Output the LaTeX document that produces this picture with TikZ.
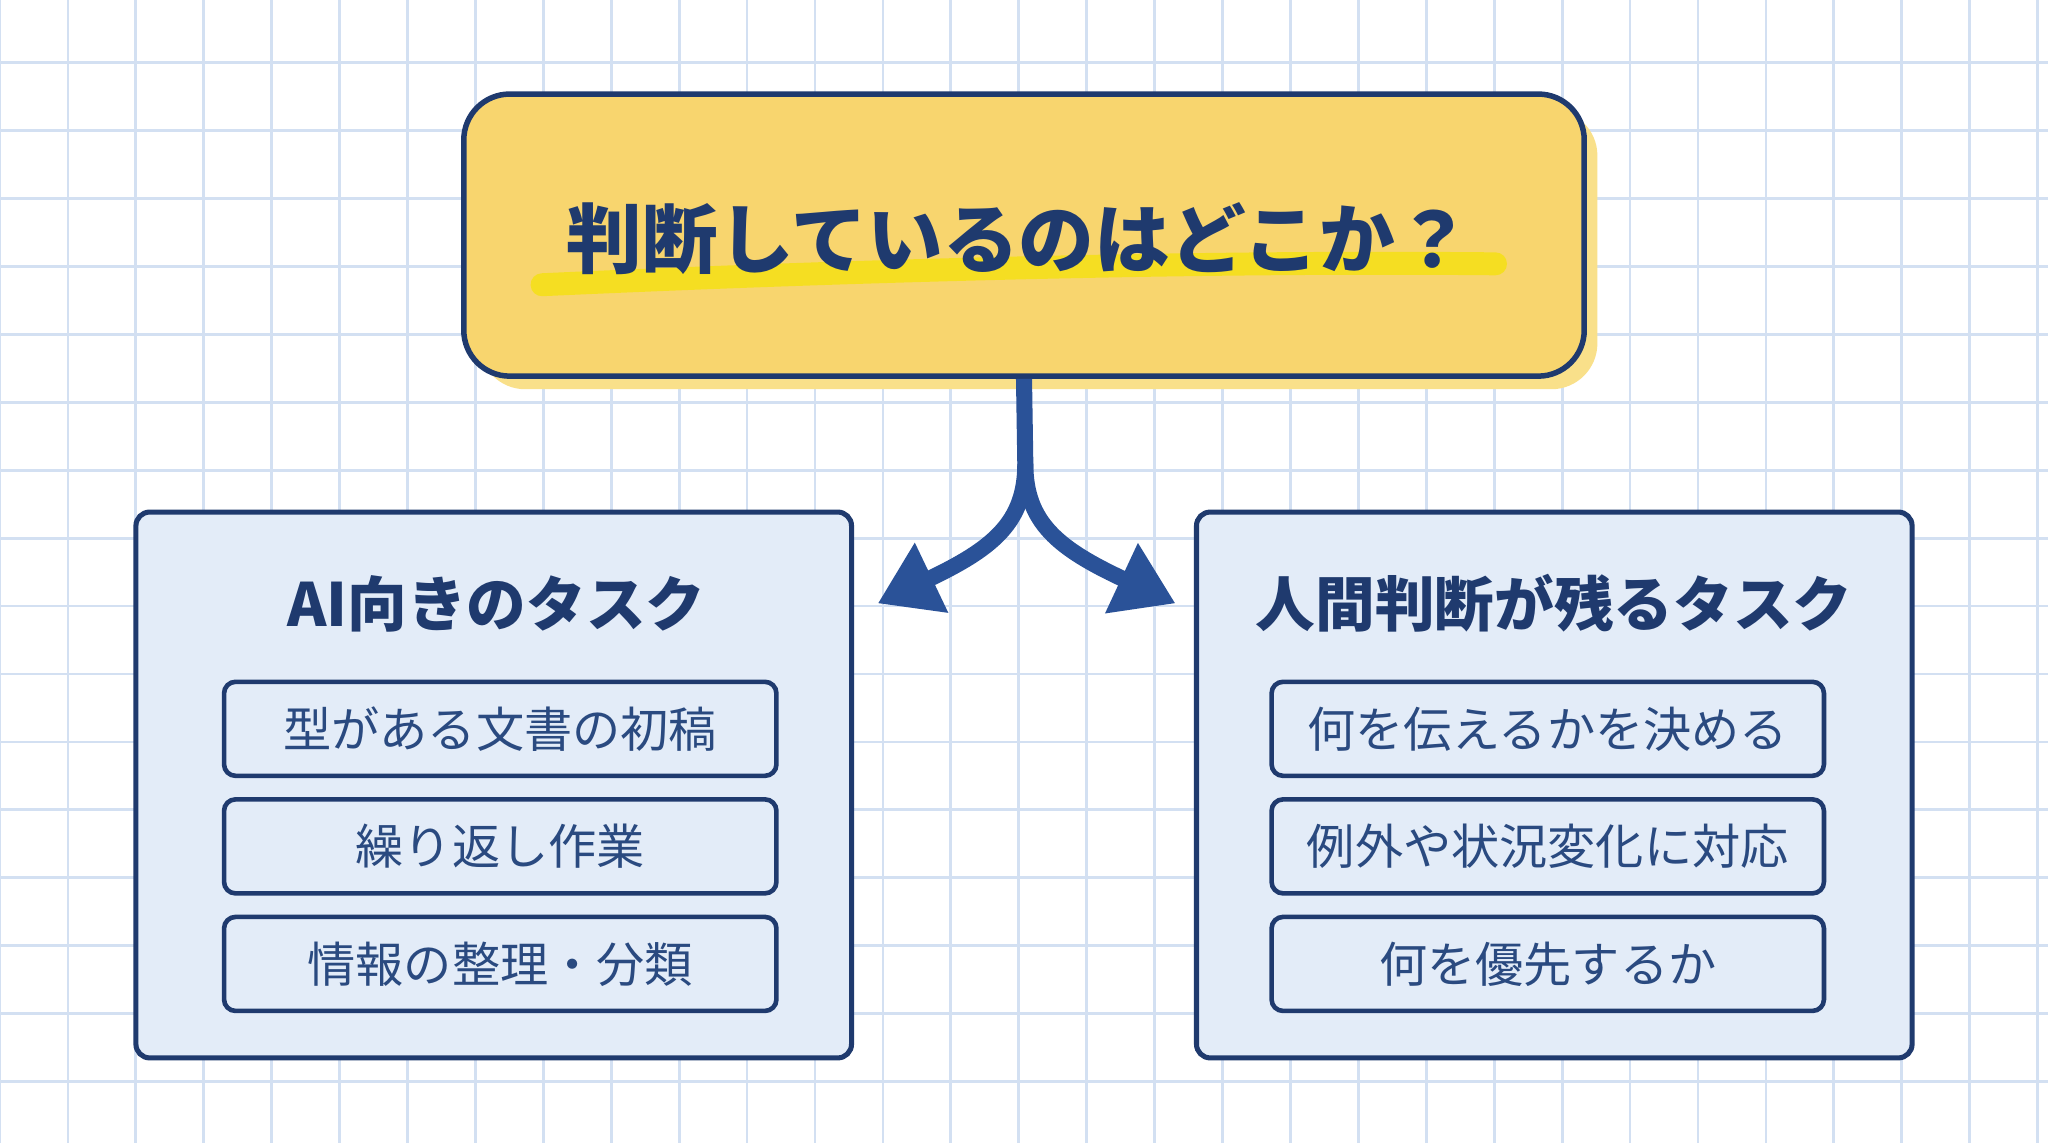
\documentclass[tikz,border=0pt]{standalone}
\usepackage{fontspec}
\setmainfont{Noto Sans CJK JP}
\usetikzlibrary{arrows.meta}
\definecolor{navy}{HTML}{1F3A6E}
\definecolor{arrowblue}{HTML}{2A5298}
\definecolor{titleyellow}{HTML}{F8D56E}
\definecolor{shadowyellow}{HTML}{F9E08A}
\definecolor{marker}{HTML}{F5E01A}
\definecolor{panelblue}{HTML}{E3ECF8}
\definecolor{itemtext}{HTML}{2A4A80}
\definecolor{gridblue}{HTML}{D3E0F2}
\tikzset{
  gridline/.style={gridblue, line width=1.2pt},
  panel/.style={draw=navy, line width=2.2pt, fill=panelblue, rounded corners=6pt},
  itembox/.style={draw=navy, line width=2pt, fill=panelblue, rounded corners=5pt,
    minimum width=8.46cm, minimum height=1.44cm, inner sep=0pt,
    font=\fontsize{21}{24}\selectfont, text=itemtext},
  paneltitle/.style={font=\fontsize{26}{30}\selectfont\bfseries, text=navy},
  arrowline/.style={arrowblue, line width=7pt, -{Triangle[width=32pt,length=26pt]}}
}
\begin{document}
\begin{tikzpicture}[x=0.02cm,y=-0.02cm]
\useasboundingbox (0,0) rectangle (1568,875);
\fill[white] (0,0) rectangle (1568,875);
% grid paper
\foreach \gx in {0,52,...,1568} \draw[gridline] (\gx,0) -- (\gx,875);
\foreach \gy in {48,100,...,875} \draw[gridline] (0,\gy) -- (1568,\gy);
% question box
\fill[shadowyellow, rounded corners=20pt] (367,84) rectangle (1223,298);
\node[draw=navy, line width=2.4pt, fill=titleyellow, rounded corners=20pt,
  minimum width=17.16cm, minimum height=4.32cm] (question) at (784,180) {};
\draw[marker, line width=10pt, line cap=round, opacity=0.9] (415,218) .. controls (700,205) and (950,200) .. (1145,202);
\node[font=\fontsize{33}{38}\selectfont\bfseries, text=navy] (qtext) at (780,183) {判断しているのはどこか？};
% branching arrow
\coordinate (fork) at (785,355);
\coordinate (ltip) at (672,462);
\coordinate (rtip) at (900,462);
\draw[arrowline] (question.south) -- (fork) .. controls (785,400) and (760,420) .. (ltip);
\draw[arrowline] (fork) .. controls (785,400) and (810,420) .. (rtip);
% left panel
\node[panel, minimum width=10.96cm, minimum height=8.36cm] (aipanel) at (378,601) {};
\node[paneltitle] (aititle) at (380,462) {AI向きのタスク};
\node[itembox] (ai1) at (383,558) {型がある文書の初稿};
\node[itembox] (ai2) at (383,648) {繰り返し作業};
\node[itembox] (ai3) at (383,738) {情報の整理・分類};
% right panel
\node[panel, minimum width=10.96cm, minimum height=8.36cm] (humanpanel) at (1190,601) {};
\node[paneltitle] (humantitle) at (1190,462) {人間判断が残るタスク};
\node[itembox] (hu1) at (1185,558) {何を伝えるかを決める};
\node[itembox] (hu2) at (1185,648) {例外や状況変化に対応};
\node[itembox] (hu3) at (1185,738) {何を優先するか};
\end{tikzpicture}
\end{document}
